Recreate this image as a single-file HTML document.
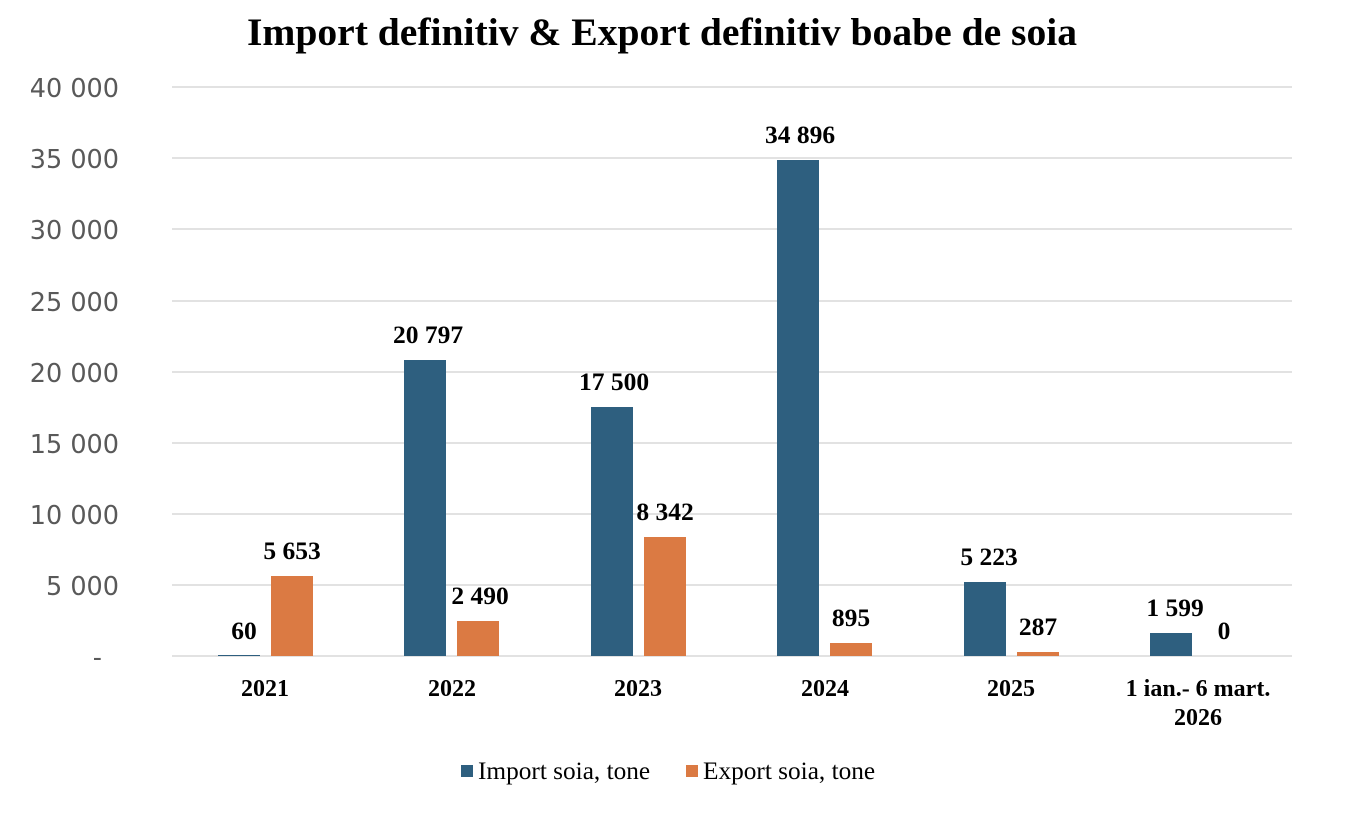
<!DOCTYPE html>
<html><head><meta charset="utf-8"><style>
body{margin:0;background:#fff;}
svg text{font-family:"Liberation Serif",serif;}
svg .ax{font-family:"DejaVu Sans",sans-serif;}
</style></head><body>
<svg width="1366" height="816" xmlns="http://www.w3.org/2000/svg">
<text x="662" y="45" text-anchor="middle" font-size="39.6" font-weight="bold">Import definitiv &amp; Export definitiv boabe de soia</text>
<g stroke="#d9d9d9" stroke-width="1.5">
<line x1="172" x2="1292" y1="87" y2="87"/><line x1="172" x2="1292" y1="158" y2="158"/>
<line x1="172" x2="1292" y1="229" y2="229"/><line x1="172" x2="1292" y1="301" y2="301"/>
<line x1="172" x2="1292" y1="372" y2="372"/><line x1="172" x2="1292" y1="443" y2="443"/>
<line x1="172" x2="1292" y1="514" y2="514"/><line x1="172" x2="1292" y1="585" y2="585"/>
<line x1="172" x2="1292" y1="656" y2="656"/>
</g>
<g font-size="25.5" fill="#595959" text-anchor="end">
<text class="ax" x="119" y="97">40 000</text>
<text class="ax" x="119" y="168">35 000</text>
<text class="ax" x="119" y="239">30 000</text>
<text class="ax" x="119" y="311">25 000</text>
<text class="ax" x="119" y="382">20 000</text>
<text class="ax" x="119" y="453">15 000</text>
<text class="ax" x="119" y="524">10 000</text>
<text class="ax" x="119" y="595">5 000</text>
<text class="ax" x="102" y="666">-</text>
</g>
<g fill="#2E5F7F">
<rect x="218" y="655" width="42" height="1"/>
<rect x="404" y="360" width="42" height="296"/>
<rect x="591" y="407" width="42" height="249"/>
<rect x="777" y="160" width="42" height="496"/>
<rect x="964" y="582" width="42" height="74"/>
<rect x="1150" y="633" width="42" height="23"/>
</g>
<g fill="#DB7A43">
<rect x="271" y="576" width="42" height="80"/>
<rect x="457" y="621" width="42" height="35"/>
<rect x="644" y="537" width="42" height="119"/>
<rect x="830" y="643" width="42" height="13"/>
<rect x="1017" y="652" width="42" height="4"/>
</g>
<g font-size="25.5" font-weight="bold" text-anchor="middle">
<text x="244" y="639">60</text><text x="292" y="559">5 653</text>
<text x="428" y="343">20 797</text><text x="480" y="604">2 490</text>
<text x="614" y="390">17 500</text><text x="665" y="520">8 342</text>
<text x="800" y="143">34 896</text><text x="851" y="626">895</text>
<text x="989" y="565">5 223</text><text x="1038" y="635">287</text>
<text x="1175" y="616">1 599</text><text x="1224" y="639">0</text>
</g>
<g font-size="24" font-weight="bold" text-anchor="middle">
<text x="265" y="696">2021</text><text x="452" y="696">2022</text>
<text x="638" y="696">2023</text><text x="825" y="696">2024</text>
<text x="1011" y="696">2025</text><text x="1198" y="696">1 ian.- 6 mart.</text>
<text x="1198" y="725">2026</text>
</g>
<rect x="461" y="765" width="12" height="12" fill="#2E5F7F"/>
<text x="478" y="779" font-size="25.3">Import soia, tone</text>
<rect x="686" y="765" width="12" height="12" fill="#DB7A43"/>
<text x="703" y="779" font-size="25.3">Export soia, tone</text>
</svg>
</body></html>
